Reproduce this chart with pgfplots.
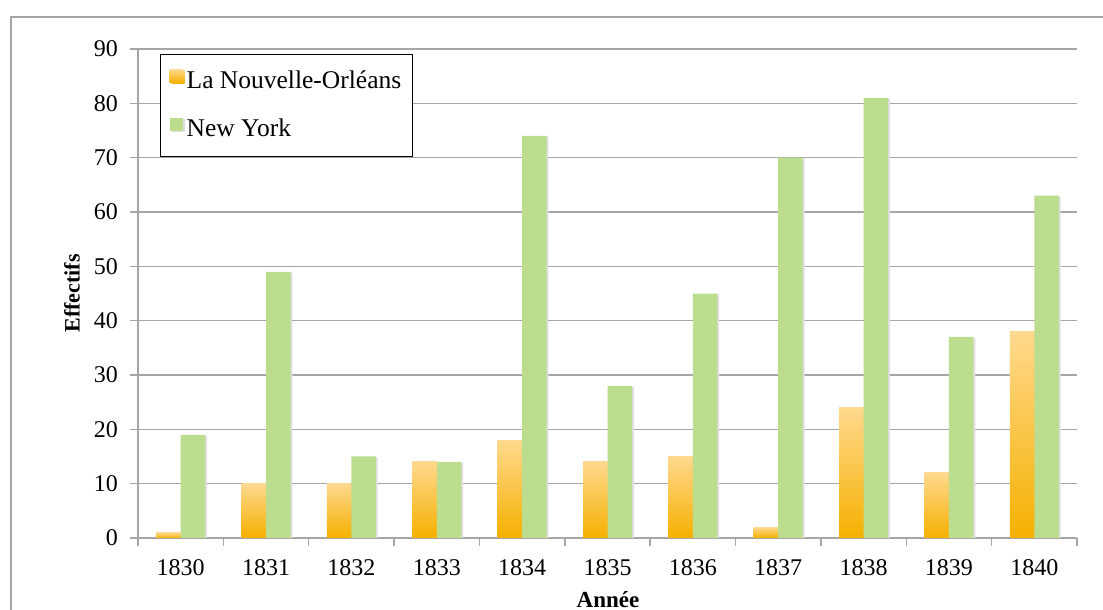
\documentclass[border=0pt]{standalone}
\usepackage{pgfplots}
\pgfplotsset{compat=1.18}
\usepackage{fontspec}
\setmainfont{Liberation Serif}
\definecolor{gridgray}{HTML}{A6A6A6}
\definecolor{orangetop}{HTML}{FFD98E}
\definecolor{orangebot}{HTML}{F5B000}
\definecolor{nygreen}{HTML}{BCDD8E}
\pgfdeclareverticalshading{orangegrad}{100bp}{color(0bp)=(orangebot); color(25bp)=(orangebot); color(75bp)=(orangetop); color(100bp)=(orangetop)}
\pgfplotsset{
  barshadow/.style={preaction={fill=black!13, transform canvas={xshift=1.8pt,yshift=-0.8pt}}},
  nobar/.style={draw=none, barshadow, shading=orangegrad, bar shift=-12.25pt, forget plot}}
\begin{document}
\fontsize{24}{28}\selectfont
\begin{tikzpicture}[x=1pt,y=1pt]
\useasboundingbox (0,0) rectangle (1103,610);
\draw[gridgray, line width=2pt] (11,-5) -- (11,593) -- (1110,593);
\begin{axis}[
  at={(138pt,72pt)}, anchor=south west,
  scale only axis, width=939pt, height=489pt,
  ybar, bar width=24.5pt,
  xmin=-0.5, xmax=10.5, ymin=0, ymax=90,
  xtick={0,1,2,3,4,5,6,7,8,9,10},
  xticklabels={1830,1831,1832,1833,1834,1835,1836,1837,1838,1839,1840},
  minor xtick={-0.5,0.5,1.5,2.5,3.5,4.5,5.5,6.5,7.5,8.5,9.5,10.5},
  ytick={0,10,20,30,40,50,60,70,80,90},
  axis x line=bottom, axis y line=left,
  axis line style={-, gridgray, line width=1.5pt},
  tick align=outside,
  major tick length=8pt, minor tick length=8pt,
  every tick/.style={gridgray, line width=1.5pt},
  every major x tick/.append style={draw=none},
  ymajorgrids, grid style={gridgray, line width=1.5pt},
  /pgf/number format/assume math mode=true,
  xticklabel style={font=\fontsize{24}{28}\selectfont, yshift=-5pt},
  yticklabel style={font=\fontsize{24}{28}\selectfont, xshift=-4pt},
  xlabel={Année}, ylabel={Effectifs},
  xlabel style={font=\bfseries\fontsize{23}{27}\selectfont, at={(axis description cs:0.5005,-0.143)}, anchor=base},
  ylabel style={font=\bfseries\fontsize{22}{26}\selectfont, at={(axis description cs:-0.0703,0.5)}, anchor=center, rotate=0},
  legend style={at={(rel axis cs:0.0234,0.9898)}, anchor=north west, draw=black, line width=1.5pt,
    inner xsep=9pt, inner ysep=14pt, row sep=23pt, column sep=2pt, cells={anchor=west},
    font=\fontsize{25.5}{29}\selectfont},
  legend cell align=left,
]
% La Nouvelle-Orleans: one bar per plot so each bar gets its own gradient
\addplot[draw=none, barshadow, shading=orangegrad, bar shift=-12.25pt,
  legend image code/.code={\shade[shading=orangegrad] (-2pt,-1pt) rectangle (11pt,12pt);}]
  coordinates {(0,1)};
\addlegendentry{La Nouvelle-Orléans}
\addplot[nobar] coordinates {(1,10)};
\addplot[nobar] coordinates {(2,10)};
\addplot[nobar] coordinates {(3,14)};
\addplot[nobar] coordinates {(4,18)};
\addplot[nobar] coordinates {(5,14)};
\addplot[nobar] coordinates {(6,15)};
\addplot[nobar] coordinates {(7,2)};
\addplot[nobar] coordinates {(8,24)};
\addplot[nobar] coordinates {(9,12)};
\addplot[nobar] coordinates {(10,38)};
% New York
\addplot[draw=none, barshadow, fill=nygreen, bar shift=12.25pt,
  legend image code/.code={\fill[nygreen] (-2pt,-1pt) rectangle (11pt,12pt);}]
  coordinates {(0,19)(1,49)(2,15)(3,14)(4,74)(5,28)(6,45)(7,70)(8,81)(9,37)(10,63)};
\addlegendentry{New York}
\end{axis}
\end{tikzpicture}
\end{document}
